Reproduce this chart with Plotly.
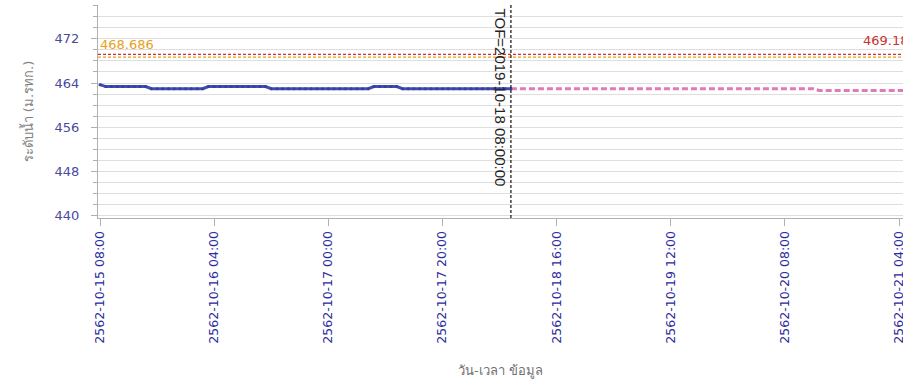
import plotly.graph_objects as go
import pandas as pd

# ---- data ----
obs_start = "2019-10-15 08:00"
obs_values = (
    [463.7]
    + [463.35] * 8      # h1-h8
    + [462.96] * 10     # h9-h18
    + [463.35] * 11     # h19-h29
    + [462.96] * 18     # h30-h47
    + [463.35] * 5      # h48-h52
    + [462.96] * 20     # h53-h72
)
fc_start = "2019-10-18 08:00"
fc_values = [462.96] * 54 + [462.66] * 16

tof_time = "2019-10-18 08:00"
tof_label = "TOF=2019-10-18 08:00:00"
level_orange = 468.686
level_red = 469.18

tick_vals = pd.date_range("2019-10-15 08:00", periods=8, freq="20h")
tick_text = [
    "2562-10-15 08:00", "2562-10-16 04:00", "2562-10-17 00:00", "2562-10-17 20:00",
    "2562-10-18 16:00", "2562-10-19 12:00", "2562-10-20 08:00", "2562-10-21 04:00",
]
y_ticks = [440, 448, 456, 464, 472]

x_range = ["2019-10-15 07:39", "2019-10-21 04:42"]
y_range = [439.6, 478.1]

obs_x = pd.date_range(obs_start, periods=len(obs_values), freq="h")
fc_x = pd.date_range(fc_start, periods=len(fc_values), freq="h")

fig = go.Figure()

fig.add_trace(go.Scatter(
    x=fc_x, y=fc_values, mode="lines",
    line=dict(color="#e07ab8", width=3, dash="6px,3px"),
    hoverinfo="skip", showlegend=False,
))
fig.add_trace(go.Scatter(
    x=obs_x, y=obs_values, mode="lines+markers",
    line=dict(color="#3f4db5", width=3),
    marker=dict(size=3, color="#34409e"),
    hoverinfo="skip", showlegend=False,
))

# horizontal reference levels
fig.add_hline(y=level_red, line=dict(color="#c83232", width=1.3, dash="3px,2px"))
fig.add_hline(y=level_orange, line=dict(color="#e8a020", width=1.3, dash="3px,2px"))
# TOF vertical
fig.add_vline(x=pd.Timestamp(tof_time).timestamp() * 1000,
              line=dict(color="#111111", width=1.2, dash="3px,2px"))

fig.add_annotation(x=0, xref="paper", y=level_orange, yref="y",
                   text=f"{level_orange:.3f}", showarrow=False,
                   xanchor="left", yanchor="bottom", xshift=0, yshift=3,
                   font=dict(color="#e8a020", size=13, family="DejaVu Sans"))
fig.add_annotation(x="2019-10-20 21:20", xref="x", y=level_red, yref="y",
                   text=f"{level_red:.2f}", showarrow=False,
                   xanchor="left", yanchor="bottom", yshift=4,
                   font=dict(color="#c83232", size=13, family="DejaVu Sans"))
fig.add_annotation(x=tof_time, xref="x", y=1, yref="paper",
                   text=tof_label, showarrow=False, textangle=90,
                   xanchor="right", yanchor="top", xshift=1, yshift=-2,
                   font=dict(color="#222222", size=15, family="Liberation Sans"))

fig.update_xaxes(
    range=x_range, tickvals=tick_vals, ticktext=tick_text, tickangle=-90,
    showgrid=False, showline=True, linecolor="#b0b0b0", linewidth=1,
    ticks="outside", ticklen=7, tickcolor="#b0b0b0",
    tickfont=dict(color="#2b2ba0", size=12.5, family="DejaVu Sans"),
    ticklabeloverflow="allow",
    title=dict(text="วัน-เวลา ข้อมูล", standoff=24,
               font=dict(color="#707070", size=13, family="DejaVu Sans")),
    zeroline=False, automargin=False,
)
fig.update_yaxes(
    range=y_range, tickvals=y_ticks, showline=True, linecolor="#b0b0b0", linewidth=1,
    showgrid=True, gridcolor="#dedede", gridwidth=1,
    ticks="outside", ticklen=6, tickcolor="#b0b0b0",
    minor=dict(dtick=2, showgrid=True, gridcolor="#dedede", ticks="outside",
               ticklen=4, tickcolor="#b0b0b0"),
    tickfont=dict(color="#4a4a9a", size=13, family="DejaVu Sans"),
    ticklabelstandoff=9,
    title=dict(text="ระดับน้ำ (ม.รทก.)", standoff=18,
               font=dict(color="#808080", size=13, family="DejaVu Sans")),
    zeroline=False, automargin=False,
)

fig.update_layout(
    width=903, height=379,
    margin=dict(l=98, r=0, t=5, b=161),
    paper_bgcolor="white", plot_bgcolor="white",
    showlegend=False,
)

fig.write_html(
    "out.html",
    config={"displayModeBar": False, "staticPlot": True},
    post_script="document.body.style.margin='0';document.body.style.overflow='hidden';",
)
